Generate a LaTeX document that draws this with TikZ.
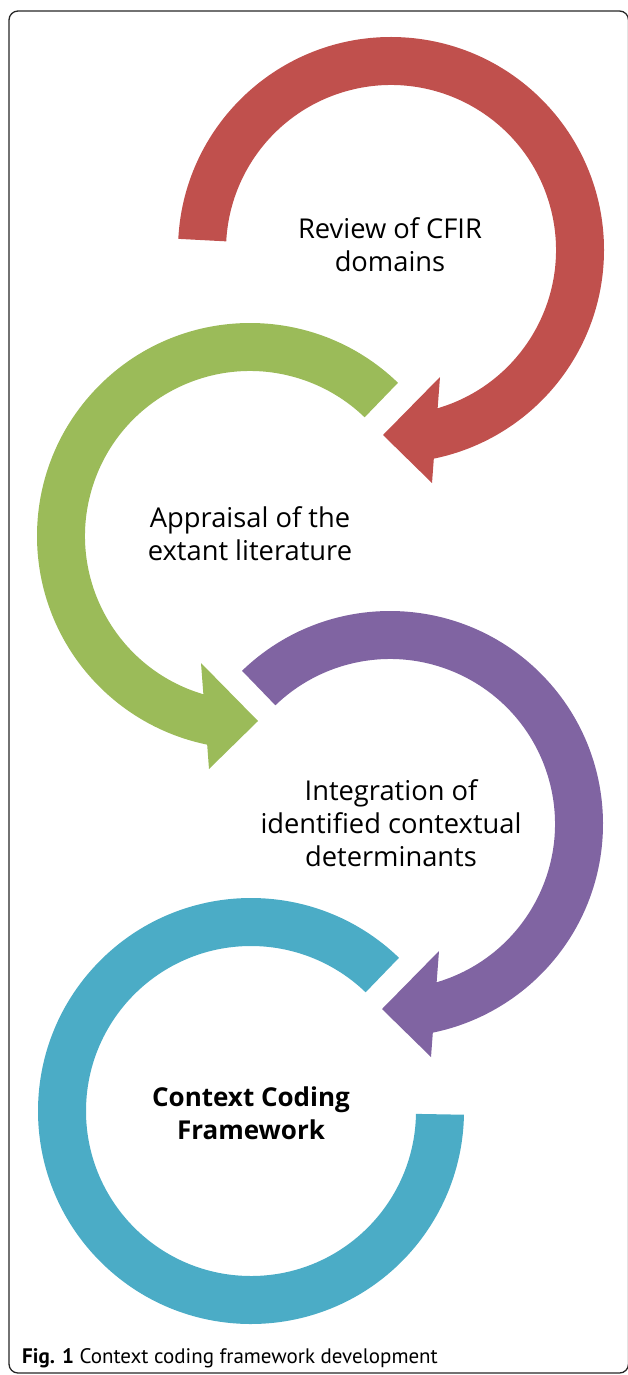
\documentclass[tikz,border=0pt]{standalone}
\usepackage{fontspec}
\setmainfont{Open Sans}
\newfontfamily\capfont{PT Sans}
\definecolor{arcred}{HTML}{C0504D}
\definecolor{arcgreen}{HTML}{9BBB59}
\definecolor{arcpurple}{HTML}{8064A2}
\definecolor{arcteal}{HTML}{4BACC6}
\tikzset{
  % thick ring running clockwise from angle #1, ending in a block arrowhead
  pics/circarrow/.style 2 args={code={
    \fill[#2] (#1:213) arc[start angle=#1, end angle=-78.4, radius=213]
      -- (41,-233) -- (-8,-185) -- (49,-127) -- (-73.58:165)
      arc[start angle=-73.58, end angle=#1, radius=165] -- cycle;
  }},
  steptext/.style={align=center, text=black, font=\fontsize{27.3}{33}\selectfont},
  frame/.style={draw=black!85, line width=1.3pt, rounded corners=9pt},
}
\begin{document}
\begin{tikzpicture}[x=1pt,y=1pt]
\useasboundingbox (0,0) rectangle (627,-1375);
\draw[frame] (9,-11) rectangle (628.5,-1373);

% the three stages, each ending in an arrowhead
\pic[shift={(391,-250)}] {circarrow={177}{arcred}};
\pic[shift={(250,-536)}, xscale=-1] {circarrow={134}{arcgreen}};
\pic[shift={(390,-824)}] {circarrow={134}{arcpurple}};

% closing ring without an arrowhead
\begin{scope}[shift={(251,-1111)}]
  \fill[arcteal] (46:213) arc[start angle=46, end angle=359, radius=213]
    -- (359:165) arc[start angle=359, end angle=46, radius=165] -- cycle;
\end{scope}

\node[steptext] (review) at (390,-245) {Review of CFIR\\domains};
\node[steptext] (appraisal) at (250,-534) {Appraisal of the\\extant literature};
\node[steptext] (integration) at (391,-823) {Integration of\\identified contextual\\determinants};
\node[steptext, font=\fontsize{26}{33}\selectfont\bfseries] (framework) at (251,-1113) {Context Coding\\Framework};

\node[anchor=base west, inner sep=0pt, font=\capfont\fontsize{21}{24}\selectfont] (caption) at (22,-1363)
  {\textbf{Fig. 1} Context coding framework development};
\end{tikzpicture}
\end{document}
